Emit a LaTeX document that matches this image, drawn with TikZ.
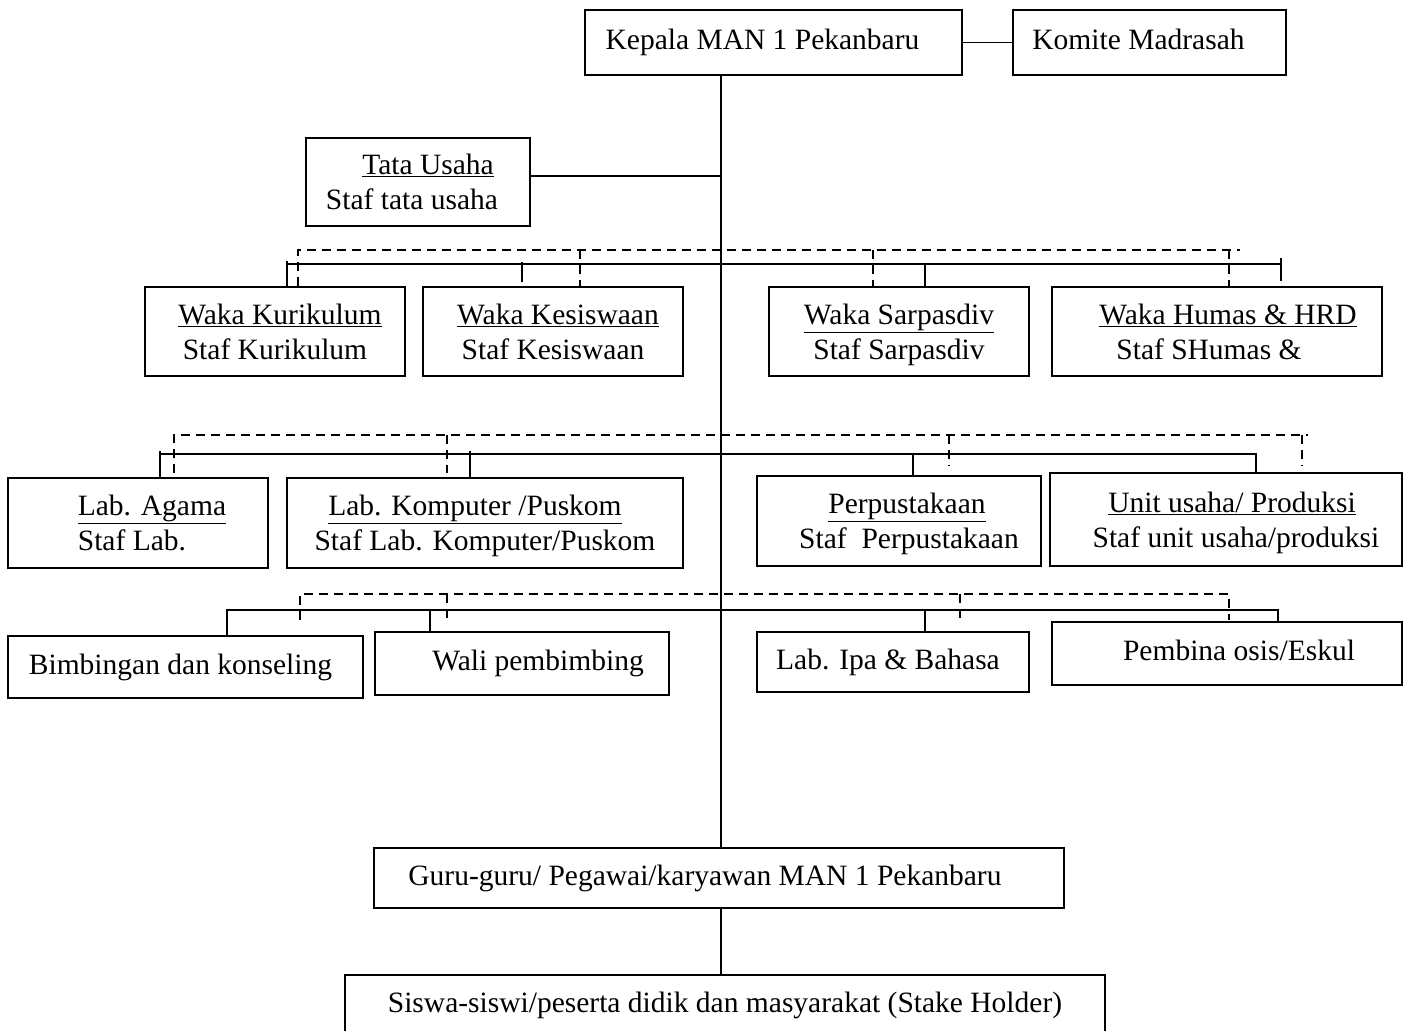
\documentclass[tikz,border=0pt]{standalone}
\usepackage{fontspec}
\setmainfont{Liberation Serif}
\usetikzlibrary{positioning}
\newcommand{\orgsize}{\fontsize{29.5}{35}\selectfont}
\newcommand{\headstrut}{\rule{0pt}{31pt}}
\tikzset{
  unit/.style={draw, line width=1.5pt, inner sep=0pt, align=center, font=\orgsize,
    execute at begin node=\strut, execute at end node=\strut},
  link/.style={line width=1.5pt},
  dashlink/.style={line width=1.5pt, dash pattern=on 9pt off 6pt},
}

\begin{document}
\begin{tikzpicture}[x=1pt,y=-1pt]
  \useasboundingbox (0,0) rectangle (1406,1031);

  % Head
  \node[unit, minimum width=377pt, minimum height=65pt] (kepala) at (773.5,42.5) {\hspace*{-22pt}Kepala MAN 1 Pekanbaru};
  \node[unit, minimum width=273pt, minimum height=65pt] (komite) at (1149.5,42.5) {\hspace*{-22pt}Komite Madrasah};
  \node[unit, minimum width=224pt, minimum height=88pt] (tu) at (418,182) {\headstrut\hspace*{20pt}\underline{Tata Usaha}\\\hspace*{-12pt}Staf tata usaha};

  % Waka
  \node[unit, minimum width=260pt, minimum height=89pt] (kur) at (275,331.5) {\headstrut\hspace*{10pt}\underline{Waka Kurikulum}\\Staf Kurikulum};
  \node[unit, minimum width=260pt, minimum height=89pt] (kes) at (553,331.5) {\headstrut\hspace*{10pt}\underline{Waka Kesiswaan}\\Staf Kesiswaan};
  \node[unit, minimum width=260pt, minimum height=89pt] (sar) at (899,331.5) {\headstrut\underline{Waka Sarpasdiv}\\Staf Sarpasdiv};
  \node[unit, minimum width=330pt, minimum height=89pt] (hum) at (1217,331.5) {\headstrut\hspace*{22pt}\underline{Waka Humas \& HRD}\\\hspace*{-16pt}Staf SHumas \&};

  % Units
  \node[unit, minimum width=260pt, minimum height=90pt, align=left] (agama) at (138,523) {\headstrut\hspace*{28pt}\underline{Lab. Agama}\\\hspace*{28pt}Staf Lab.};
  \node[unit, minimum width=396pt, minimum height=90pt] (komp) at (485,523) {\headstrut\hspace*{-20pt}\underline{Lab. Komputer /Puskom}\\Staf Lab. Komputer/Puskom};
  \node[unit, minimum width=284pt, minimum height=90pt] (pus) at (899,521) {\headstrut\hspace*{16pt}\underline{Perpustakaan}\\\hspace*{20pt}Staf\ \ Perpustakaan};
  \node[unit, minimum width=352pt, minimum height=93pt] (unit) at (1226,519.5) {\headstrut\hspace*{12pt}\underline{Unit usaha/ Produksi}\\\hspace*{20pt}Staf unit usaha/produksi};

  % Services
  \node[unit, minimum width=355pt, minimum height=62pt] (bk) at (185.5,667) {\hspace*{-10pt}Bimbingan dan konseling};
  \node[unit, minimum width=294pt, minimum height=63pt] (wali) at (522,663.5) {\hspace*{32pt}Wali pembimbing};
  \node[unit, minimum width=272pt, minimum height=60pt] (ipa) at (893,662) {\hspace*{-10pt}Lab. Ipa \& Bahasa};
  \node[unit, minimum width=350pt, minimum height=63pt] (pemb) at (1227,653.5) {\hspace*{24pt}Pembina osis/Eskul};

  % Bottom
  \node[unit, minimum width=690pt, minimum height=60pt] (guru) at (719,878) {\hspace*{-28pt}Guru-guru/ Pegawai/karyawan MAN 1 Pekanbaru};
  \node[unit, minimum width=760pt, minimum height=60pt] (siswa) at (725,1005) {Siswa-siswi/peserta didik dan masyarakat (Stake Holder)};

  % Trunk
  \coordinate (trunk) at (721,0);
  \draw[link] (kepala.south -| trunk) -- (guru.north -| trunk);
  \draw[link] (guru.south -| trunk) -- (siswa.north -| trunk);
  \draw[link] (kepala.east) -- (komite.west);
  \draw[link] ([yshift=6pt]tu.east) -- ([yshift=6pt]tu.east -| trunk);

  % Row 1 lines
  \coordinate (r1w) at (287,264);
  \coordinate (r1e) at (1281,264);
  \draw[link] (r1w) -- (r1e);
  \draw[link] ([yshift=3pt]r1w) -- (r1w |- kur.north);
  \draw[link] (522,262) -- ++(0,20);
  \draw[link] (925,264) -- (sar.north -| 925,0);
  \draw[link] ([yshift=6pt]r1e) -- ++(0,23);
  \draw[dashlink] (kur.north -| 298,0) |- (1240,250);
  \foreach \x/\n in {580/kes,873/sar,1229/hum}
    \draw[dashlink] (\x,250) -- (\n.north -| \x,0);

  % Row 2 lines
  \draw[link] (agama.north -| 160,0) -- (160,451) |- (1256,454) -- (unit.north -| 1256,0);
  \draw[link] (470,451) -- (komp.north -| 470,0);
  \draw[link] (913,454) -- (pus.north -| 913,0);
  \draw[dashlink] (174,473) |- (1308,435);
  \foreach \x/\y in {447/473,949/466,1302/466}
    \draw[dashlink] (\x,435) -- (\x,\y);

  % Row 3 lines
  \draw[link] (bk.north -| 227,0) |- (1278,610) -- (pemb.north -| 1278,0);
  \draw[link] (430,610) -- (wali.north -| 430,0);
  \draw[link] (925,610) -- (ipa.north -| 925,0);
  \draw[dashlink] (300,620) |- (1229,594) -- (1229,620);
  \foreach \x in {447,960}
    \draw[dashlink] (\x,594) -- (\x,620);
\end{tikzpicture}
\end{document}
